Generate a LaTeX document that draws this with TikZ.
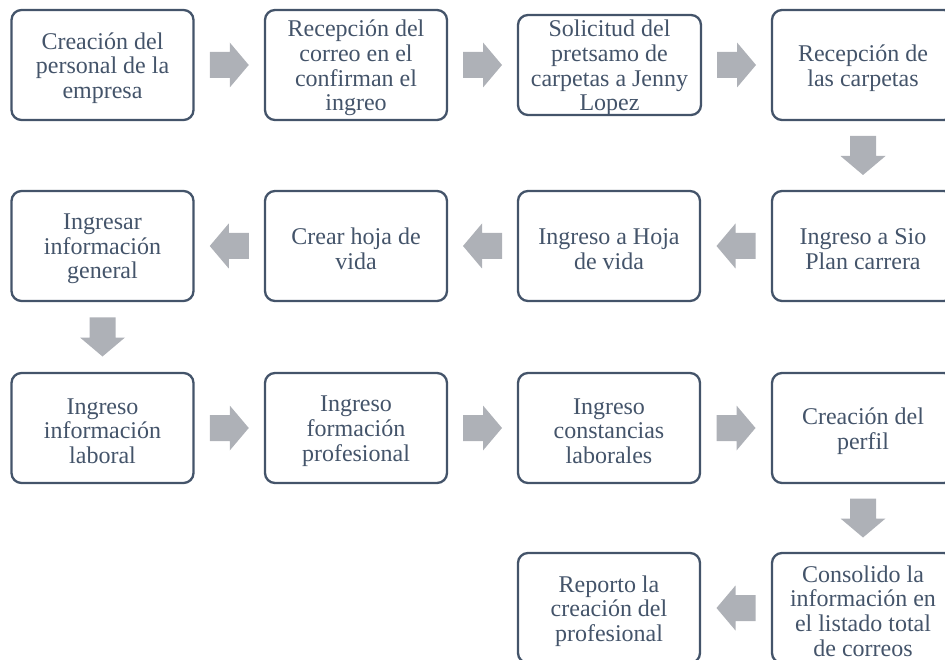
\documentclass[tikz,border=0pt]{standalone}
\usepackage{fontspec}
\setmainfont{Liberation Serif}
\usetikzlibrary{calc}
\definecolor{boxline}{HTML}{44546A}
\definecolor{boxtext}{HTML}{44546A}
\definecolor{arrowgray}{HTML}{AEB1B7}
\tikzset{
  steptext/.style={align=center, text=boxtext, font=\fontsize{24}{24.7}\selectfont, inner sep=0pt, yshift=-3pt},
  stepbox/.style={draw=boxline, line width=2.3pt, rounded corners=10pt, fill=white,
    minimum width=182pt, minimum height=110pt, inner sep=0pt,
    label={[steptext]center:{#1}}},
  blockarrow/.pic={\fill[arrowgray] (-19.5,-13) -- (0.5,-13) -- (0.5,-22.5) -- (19.5,0) -- (0.5,22.5) -- (0.5,13) -- (-19.5,13) -- cycle;}
}
\begin{document}
\begin{tikzpicture}[x=1pt,y=1pt]
\useasboundingbox (0,0) rectangle (945,-660);
\clip (0,0) rectangle (945,-660);
% row 1
\node[stepbox={Creación del\\personal de la\\empresa}] (a1) at (102.5,-65) {};
\node[stepbox={Recepción del\\correo en el\\confirman el\\ingreo}] (a2) at (356,-65) {};
\node[stepbox={Solicitud del\\pretsamo de\\carpetas a Jenny\\Lopez}, minimum height=100pt, minimum width=183pt] (a3) at (609.5,-65) {};
\node[stepbox={Recepción de\\las carpetas}] (a4) at (863,-65) {};
% row 2
\node[stepbox={Ingreso a Sio\\Plan carrera}] (b4) at (863,-246) {};
\node[stepbox={Ingreso a Hoja\\de vida}] (b3) at (609,-246) {};
\node[stepbox={Crear hoja de\\vida}] (b2) at (356,-246) {};
\node[stepbox={Ingresar\\información\\general}] (b1) at (102.5,-246) {};
% row 3
\node[stepbox={Ingreso\\información\\laboral}] (c1) at (102.5,-428) {};
\node[stepbox={Ingreso\\formación\\profesional}] (c2) at (356,-428) {};
\node[stepbox={Ingreso\\constancias\\laborales}] (c3) at (609,-428) {};
\node[stepbox={Creación del\\perfil}] (c4) at (863,-428) {};
% row 4
\node[stepbox={Consolido la\\información en\\el listado total\\de correos}] (d4) at (863,-608) {};
\node[stepbox={Reporto la\\creación del\\profesional}] (d3) at (609,-608) {};
% arrows
\pic at ($(a1.east)!0.5!(a2.west)$) {blockarrow};
\pic at ($(a2.east)!0.5!(a3.west)$) {blockarrow};
\pic at ($(a3.east)!0.5!(a4.west)$) {blockarrow};
\pic[rotate=-90] at ($(a4.south)!0.5!(b4.north)$) {blockarrow};
\pic[rotate=180] at ($(b4.west)!0.5!(b3.east)$) {blockarrow};
\pic[rotate=180] at ($(b3.west)!0.5!(b2.east)$) {blockarrow};
\pic[rotate=180] at ($(b2.west)!0.5!(b1.east)$) {blockarrow};
\pic[rotate=-90] at ($(b1.south)!0.5!(c1.north)$) {blockarrow};
\pic at ($(c1.east)!0.5!(c2.west)$) {blockarrow};
\pic at ($(c2.east)!0.5!(c3.west)$) {blockarrow};
\pic at ($(c3.east)!0.5!(c4.west)$) {blockarrow};
\pic[rotate=-90] at ($(c4.south)!0.5!(d4.north)$) {blockarrow};
\pic[rotate=180] at ($(d4.west)!0.5!(d3.east)$) {blockarrow};
\end{tikzpicture}
\end{document}
